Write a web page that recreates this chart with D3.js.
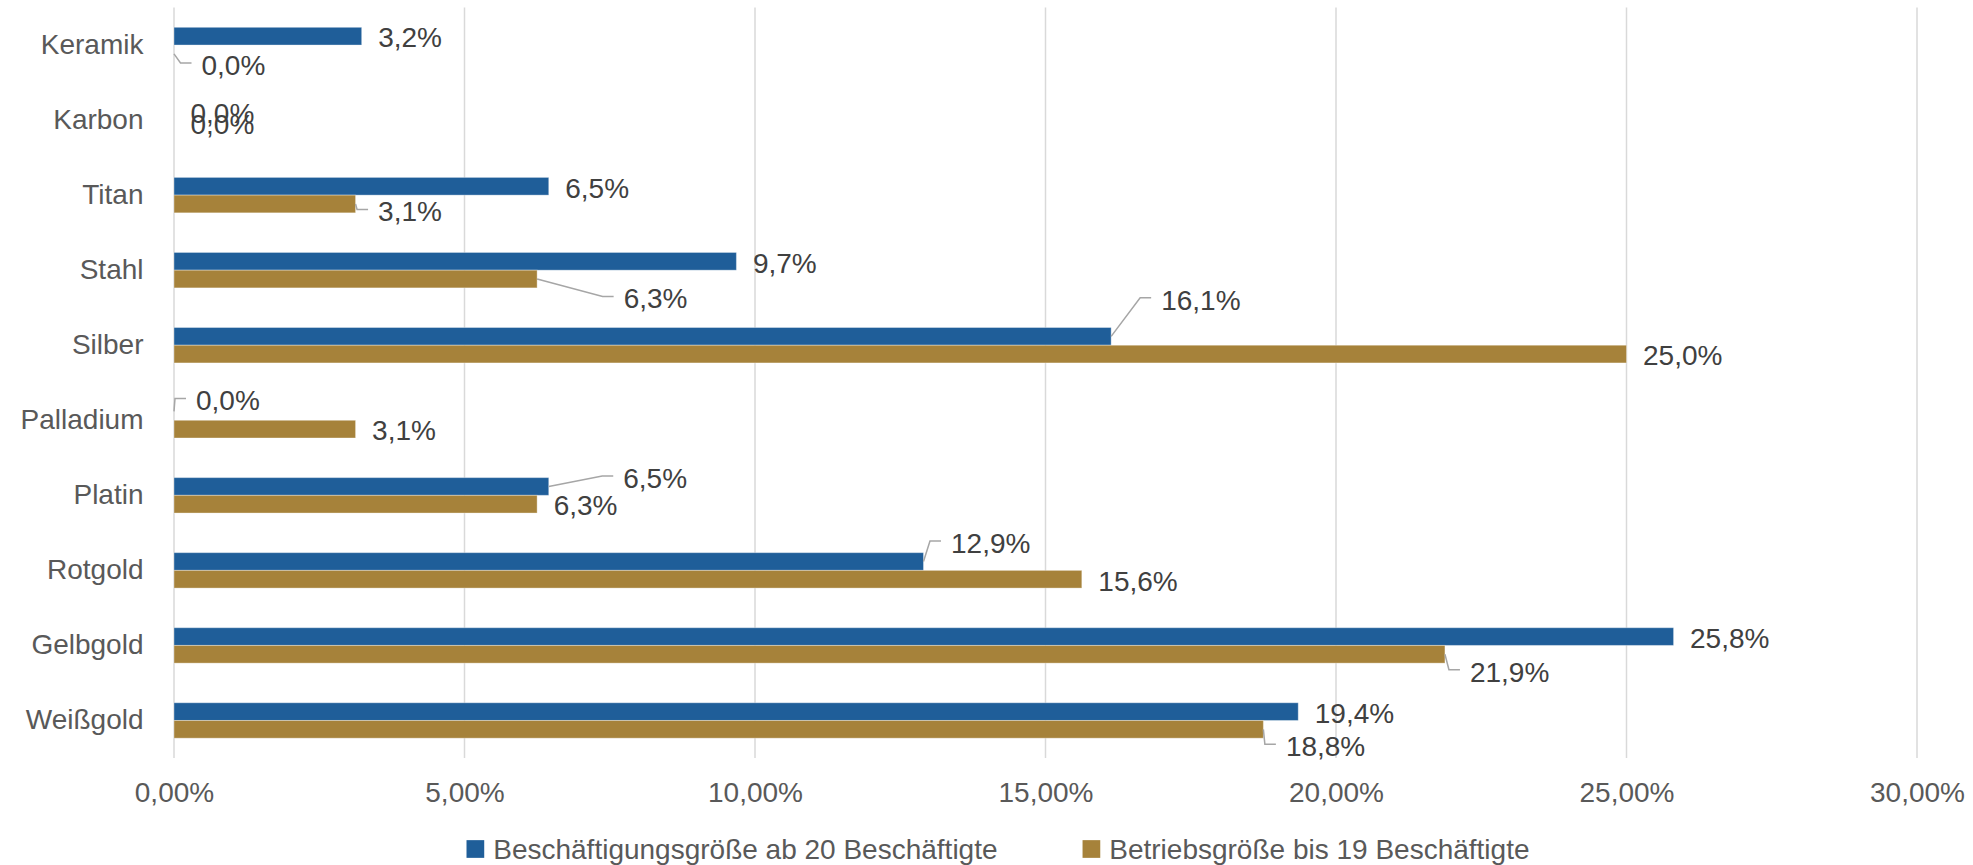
<!DOCTYPE html>
<html>
<head>
<meta charset="utf-8">
<script src="https://cdn.jsdelivr.net/npm/d3@7"></script>
<style>
  body { margin: 0; background: #fff; }
  svg { display: block; font-family: 'Liberation Sans', Arial, sans-serif; }
</style>
</head>
<body>
<svg id="chart" width="1973" height="865"></svg>
<script>
// categories from top to bottom
const categories = ['Keramik', 'Karbon', 'Titan', 'Stahl', 'Silber', 'Palladium', 'Platin', 'Rotgold', 'Gelbgold', 'Weißgold'];
const seriesNames = ['Beschäftigungsgröße ab 20 Beschäftigte', 'Betriebsgröße bis 19 Beschäftigte'];
const ab20Values = [3.23, 0, 6.45, 9.68, 16.13, 0, 6.45, 12.90, 25.81, 19.35];
const bis19Values = [0, 0, 3.125, 6.25, 25.0, 3.125, 6.25, 15.625, 21.875, 18.75];
const xTicks = [0, 5, 10, 15, 20, 25, 30];

// hand-moved data labels (pixels from default spot), leader = draw leader line
const labelMoves = {
     'ab20|Silber': { dx: 33.5, dy: -38, leader: true },
     'ab20|Palladium': { dx: 5.5, dy: -12.5, leader: true },
     'ab20|Platin': { dx: 58, dy: -10, leader: true },
     'ab20|Rotgold': { dx: 11, dy: -20, leader: true },
     'bis19|Keramik': { dx: 11, dy: 9.5, leader: true },
     'bis19|Karbon': { dx: 0, dy: -6, leader: false },
     'bis19|Titan': { dx: 6, dy: 6, leader: true },
     'bis19|Stahl': { dx: 70, dy: 18, leader: true },
     'bis19|Gelbgold': { dx: 8.5, dy: 16, leader: true },
     'bis19|Weißgold': { dx: 6, dy: 15.5, leader: true }
};

const colors = { ab20: '#1f5e99', bis19: '#a6823a' };
const fontSize = 28;

const svg = d3.select('#chart');
const margin = { left: 174, right: 56, top: 7.5, bottom: 107 };
const width = 1973, height = 865;

const x_scale = d3.scaleLinear()
     .domain([0, 30])
     .range([margin.left, width - margin.right]);

const y_scale = d3.scaleBand()
     .domain(categories)
     .range([margin.top, height - margin.bottom])
     .padding(0);

const bw = y_scale.bandwidth();
const sub_scale = d3.scaleBand()
     .domain(['ab20', 'bis19'])
     .range([bw * 0.264, bw * 0.736]);
const barH = sub_scale.bandwidth();

// gridlines
svg.append('g').selectAll('line')
     .data(xTicks)
     .enter()
     .append('line')
     .attr('x1', d => x_scale(d))
     .attr('x2', d => x_scale(d))
     .attr('y1', y_scale.range()[0])
     .attr('y2', y_scale.range()[1])
     .style('stroke', '#d9d9d9')
     .style('stroke-width', 1.5);

// x axis labels
const x_axis = d3.axisBottom(x_scale)
     .tickValues(xTicks)
     .tickSize(0)
     .tickPadding(24)
     .tickFormat(d => d.toFixed(2).replace('.', ',') + '%');
const xg = svg.append('g')
     .attr('transform', 'translate(0,' + y_scale.range()[1] + ')')
     .call(x_axis);
xg.select('.domain').remove();
xg.selectAll('text')
     .style('font-size', fontSize + 'px')
     .style('font-family', null)
     .attr('fill', '#595959');

// y axis labels
const y_axis = d3.axisLeft(y_scale).tickSize(0).tickPadding(30.5);
const yg = svg.append('g')
     .attr('transform', 'translate(' + margin.left + ',0)')
     .call(y_axis);
yg.select('.domain').remove();
yg.selectAll('text')
     .style('font-size', fontSize + 'px')
     .style('font-family', null)
     .attr('fill', '#595959');

const rows = [];
categories.forEach((c, i) => {
     rows.push({ key: 'ab20', cat: c, value: ab20Values[i] });
     rows.push({ key: 'bis19', cat: c, value: bis19Values[i] });
});

// bars
svg.append('g').selectAll('rect')
     .data(rows)
     .enter()
     .append('rect')
     .attr('x', x_scale(0))
     .attr('y', d => y_scale(d.cat) + sub_scale(d.key))
     .attr('width', d => x_scale(d.value) - x_scale(0))
     .attr('height', barH)
     .attr('fill', d => colors[d.key])
     .attr('stroke', 'rgba(255,255,255,0.35)')
     .attr('stroke-width', 1);

// data labels + leader lines
const labelG = svg.append('g');
rows.forEach(d => {
     const mv = labelMoves[d.key + '|' + d.cat] || { dx: 0, dy: 0, leader: false };
     const barEnd = x_scale(d.value);
     const barMid = y_scale(d.cat) + sub_scale(d.key) + barH / 2;
     const lx = barEnd + 16.5 + mv.dx;
     const ly = barMid + 1.5 + mv.dy;
     if (mv.leader) {
          labelG.append('polyline')
               .attr('points', [[barEnd, barMid], [lx - 21, ly - 2], [lx - 10, ly - 2]].map(p => p.join(',')).join(' '))
               .attr('fill', 'none')
               .attr('stroke', '#a6a6a6')
               .attr('stroke-width', 1.5);
     }
     labelG.append('text')
          .attr('x', lx)
          .attr('y', ly)
          .attr('dy', '0.35em')
          .attr('fill', '#404040')
          .style('font-size', fontSize + 'px')
          .text(d.value.toFixed(1).replace('.', ',') + '%');
});

// legend
const legend = svg.append('g');
const sq = barH;
let cursor = 0;
seriesNames.forEach((name, i) => {
     const key = i === 0 ? 'ab20' : 'bis19';
     const item = legend.append('g');
     item.append('rect')
          .attr('x', 0).attr('y', -sq / 2)
          .attr('width', sq).attr('height', sq)
          .attr('fill', colors[key]);
     const t = item.append('text')
          .attr('x', sq + 9)
          .attr('y', 0)
          .attr('dy', '0.35em')
          .attr('fill', '#595959')
          .style('font-size', fontSize + 'px')
          .text(name);
     const w = sq + 9 + t.node().getComputedTextLength();
     item.attr('transform', 'translate(' + cursor + ',0)');
     cursor += w + 85;
});
const total = cursor - 85;
legend.attr('transform', 'translate(' + (998 - total / 2) + ',849)');
</script>
</body>
</html>
